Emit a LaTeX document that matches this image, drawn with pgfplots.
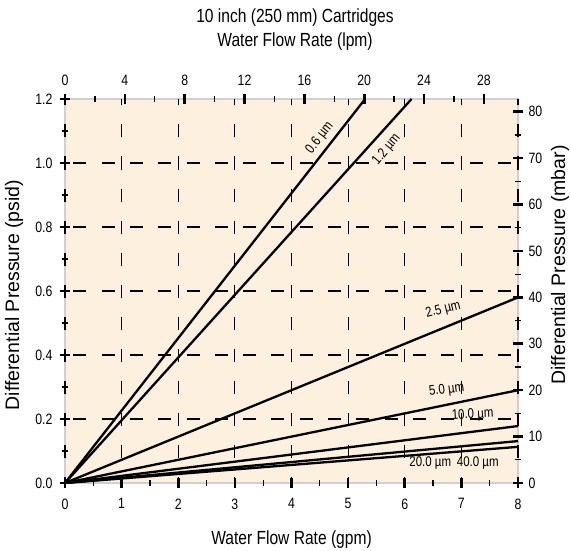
\documentclass[border=0pt]{standalone}
\usepackage{fontspec}
\setmainfont{Liberation Sans}[FakeStretch=0.82]
\newfontfamily\widesans{Liberation Sans}
\usepackage{pgfplots}
\usepackage{pgfplotstable}
\pgfplotsset{compat=1.18}
\definecolor{bgpeach}{RGB}{253,240,222}
\definecolor{framegray}{RGB}{208,208,208}

\pgfplotstableread{
x y
0 0
5.30 1.2
}\tabA
\pgfplotstableread{
x y
0 0
6.12 1.2
}\tabB
\pgfplotstableread{
x y
0 0
8 0.580
}\tabC
\pgfplotstableread{
x y
0 0
8 0.290
}\tabD
\pgfplotstableread{
x y
0 0
8 0.178
}\tabE
\pgfplotstableread{
x y
0 0
8 0.131
}\tabF
\pgfplotstableread{
x y
0 0
8 0.113
}\tabG

\pgfplotsset{
  common/.style={
    scale only axis, width=453bp, height=384bp,
    at={(0,0)}, anchor=south west,
    separate axis lines,
    axis line style={draw=none},
    tick align=center,
    major tick length=0.36cm, minor tick length=0.2cm,
    every tick/.style={black},
    every major tick/.style={black, line width=2.6bp, solid},
    every minor tick/.style={black, line width=1.3bp, solid},
    tick label style={font=\fontsize{15bp}{17bp}\selectfont},
    /pgf/number format/assume math mode=true,
  },
  lin/.style={black, line width=2.3bp, solid, mark=none},
}

\begin{document}
\begin{tikzpicture}
% frame and background
\begin{axis}[scale only axis, width=453bp, height=384bp,
  at={(0,0)}, anchor=south west,
  xmin=0, xmax=8, ymin=0, ymax=1.2,
  axis background/.style={fill=bgpeach},
  axis line style={framegray, line width=2.5bp},
  xtick=\empty, ytick=\empty,
]
\addplot[draw=none] coordinates {(0,0)};
\end{axis}
% secondary axis (top: lpm, right: mbar)
\begin{axis}[common, name=ax2,
  xmin=0, xmax=30.28, ymin=0, ymax=82.74,
  tick pos=right, ticklabel pos=right,
  xtick={0,4,...,28}, minor x tick num=1,
  ytick={0,10,...,80}, minor y tick num=1,
  xticklabel style={yshift=5bp},
  yticklabel style={xshift=2bp},
]
\addplot[draw=none] coordinates {(0,0)};
\end{axis}
% main axis (bottom: gpm, left: psid)
\begin{axis}[common, name=ax,
  xmin=0, xmax=8, ymin=0, ymax=1.2,
  tick pos=left, ticklabel pos=left,
  xtick={0,1,2,3,4,5,6,7,8}, minor x tick num=1,
  ytick={0,0.2,0.4,0.6,0.8,1.0,1.2}, minor y tick num=1,
  yticklabel style={xshift=-4bp, /pgf/number format/fixed, /pgf/number format/fixed zerofill, /pgf/number format/precision=1},
  xticklabel style={yshift=-7bp},
  xmajorgrids,
  major grid style={black, line width=1.1bp, dash pattern=on 13bp off 19bp, dash phase=6.5bp},
  extra y ticks={0.2,0.4,0.6,0.8,1.0},
  extra y tick labels={},
  extra y tick style={ymajorgrids=true, major tick length=0pt,
     major grid style={black, line width=1.1bp, dash pattern=on 13bp off 15.3bp, dash phase=20bp}},
]
\addplot[lin] table {\tabA};
\addplot[lin] table {\tabB};
\addplot[lin] table {\tabC};
\addplot[lin] table {\tabD};
\addplot[lin] table {\tabE};
\addplot[lin] table {\tabF};
\addplot[lin] table {\tabG};
\begin{scope}[every node/.style={font=\fontsize{14bp}{15bp}\selectfont, inner sep=1bp}]
\node[rotate=52] at (axis cs:4.50,1.078) {0.6 µm};
\node[rotate=50] at (axis cs:5.68,1.041) {1.2 µm};
\node[rotate=14] at (axis cs:6.68,0.541) {2.5 µm};
\node[rotate=7] at (axis cs:6.74,0.291) {5.0 µm};
\node[rotate=3] at (axis cs:7.20,0.213) {10.0 µm};
\node at (axis cs:6.45,0.0625) {20.0 µm};
\node at (axis cs:7.29,0.0625) {40.0 µm};
\end{scope}
\end{axis}
\begin{scope}[every node/.style={font=\fontsize{19bp}{21bp}\selectfont, inner sep=0pt}]
\node[anchor=base] at ([xshift=3.5bp,yshift=76bp]ax.north) {10 inch (250 mm) Cartridges};
\node[anchor=base] at ([xshift=3.5bp,yshift=52bp]ax.north) {Water Flow Rate (lpm)};
\node[anchor=base] at ([yshift=-61bp]ax.south) {Water Flow Rate (gpm)};
\end{scope}
\begin{scope}[every node/.style={font=\widesans\fontsize{19.5bp}{21bp}\selectfont, inner sep=0pt}]
\node[rotate=90] at ([xshift=-51bp,yshift=-4bp]ax.west) {Differential Pressure (psid)};
\node[rotate=90] at ([xshift=42bp,yshift=26bp]ax.east) {Differential Pressure (mbar)};
\end{scope}
\pgfresetboundingbox
\path ([xshift=-65bp,yshift=-67bp]ax.south west) rectangle ([xshift=53bp,yshift=99bp]ax.north east);
\end{tikzpicture}
\end{document}
